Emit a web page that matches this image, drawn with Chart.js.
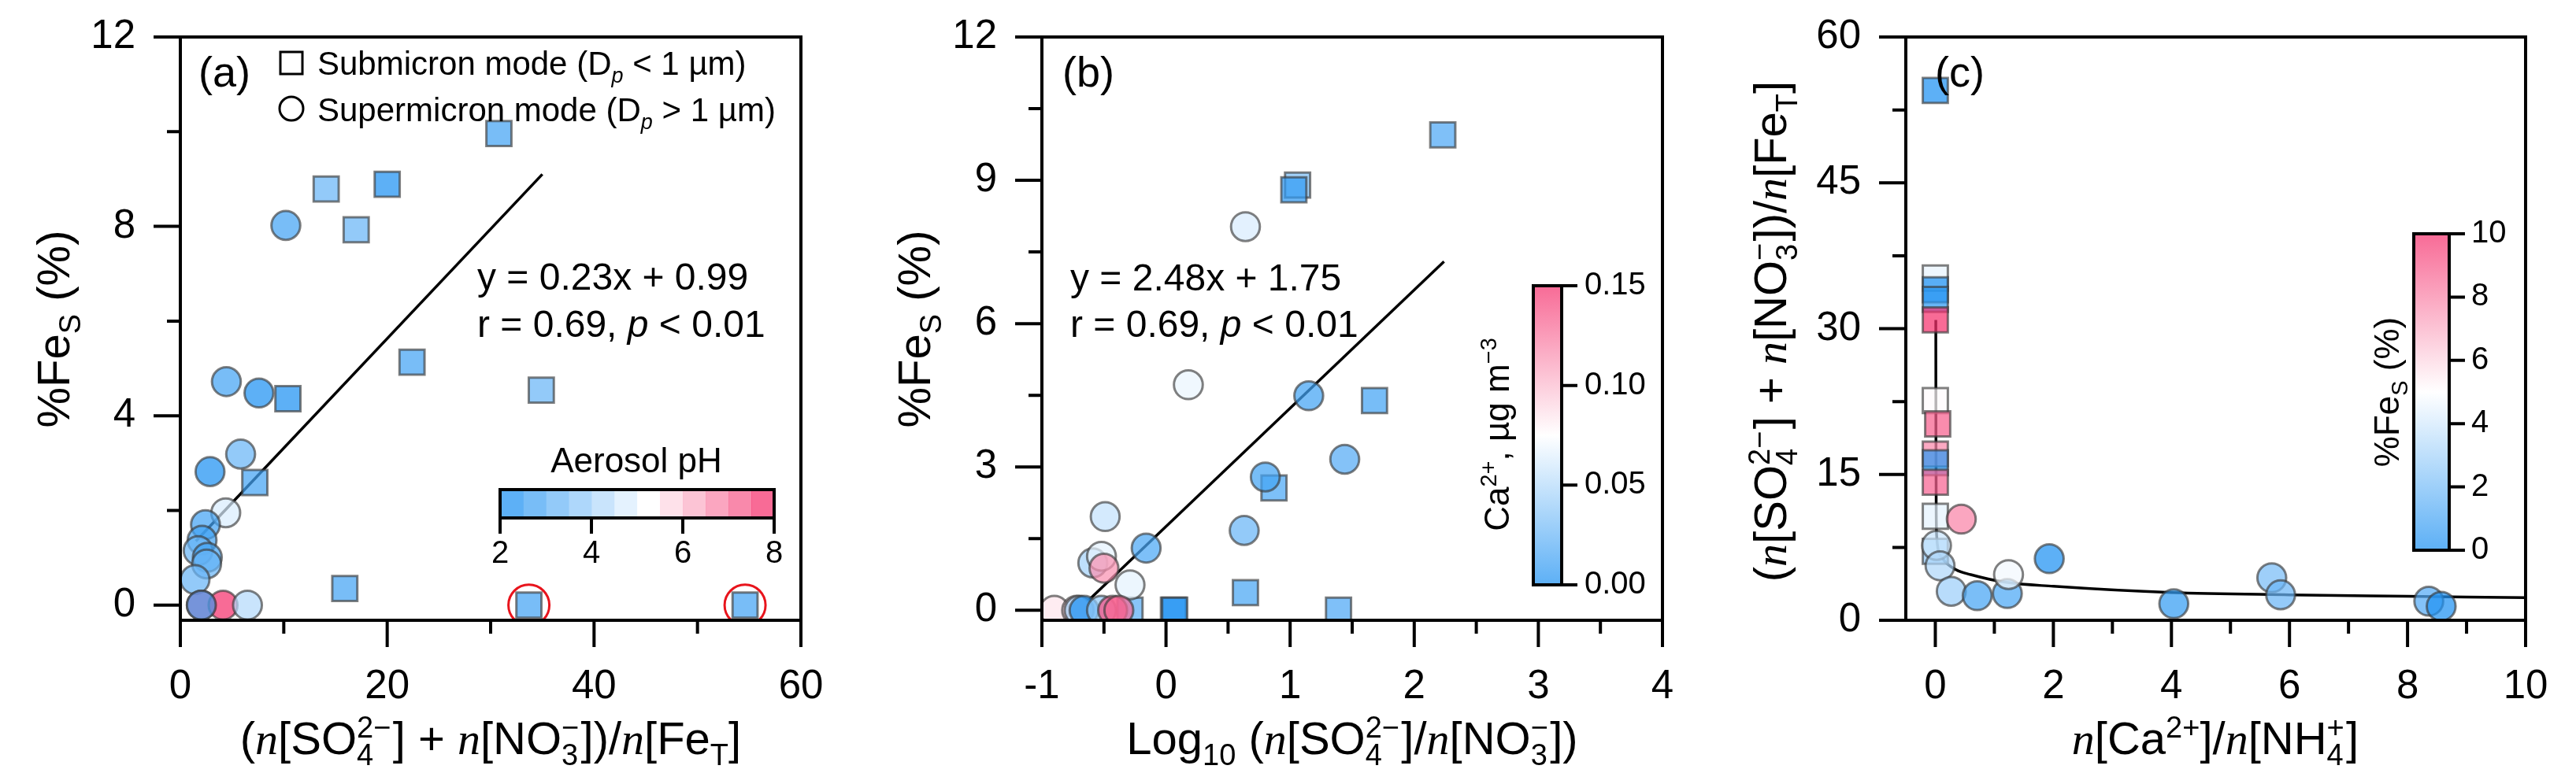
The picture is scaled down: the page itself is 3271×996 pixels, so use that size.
<!DOCTYPE html>
<html>
<head>
<meta charset="utf-8">
<title>%FeS scatter panels</title>
<script src="https://cdn.jsdelivr.net/npm/chart.js@4.4.1/dist/chart.umd.min.js"></script>
<style>
html, body { margin: 0; padding: 0; background: #fff; }
#wrap { position: relative; width: 3271px; height: 996px; overflow: hidden; }
#wrap canvas { position: absolute; top: 0; }
</style>
</head>
<body>
<div id="wrap">
  <canvas id="chartA" width="1090" height="996" style="left:0px"></canvas>
  <canvas id="chartB" width="1090" height="996" style="left:1090px"></canvas>
  <canvas id="chartC" width="1091" height="996" style="left:2180px"></canvas>
</div>
<script>
// ---- panel (a): %FeS vs (SO4 + NO3)/FeT, coloured by aerosol pH
const subAx = [30.8, 14.1, 20.0, 17.0, 22.4, 34.9, 10.4, 7.2, 15.9, 33.7, 54.6];
const subAy = [9.96, 8.79, 8.89, 7.93, 5.13, 4.54, 4.36, 2.59, 0.35, 0, 0];
const subApH = [2.8, 3.3, 2.3, 3.4, 2.9, 3.3, 2.4, 2.9, 2.8, 2.7, 2.9];
const supAx = [10.2, 4.45, 7.6, 5.83, 2.87, 4.39, 2.43, 2.1, 1.72, 2.61, 2.54, 1.42, 2.03, 4.13, 2.03, 6.49];
const supAy = [8.02, 4.72, 4.48, 3.19, 2.82, 1.95, 1.70, 1.37, 1.15, 1.01, 0.87, 0.54, 0, 0, 0, 0];
const supApH = [2.9, 2.9, 2.4, 3.0, 2.4, 4.6, 2.6, 2.6, 3.0, 2.5, 3.1, 3.2, 7.6, 7.6, 2.8, 4.3];
const circledAx = [33.7, 54.6];
const circledAy = [0, 0];
const fitAx = [1.5, 35.0];
const fitAy = [1.35, 9.1];
const xTicksA = [0, 20, 40, 60], xMinorA = [10, 30, 50];
const yTicksA = [0, 4, 8, 12], yMinorA = [2, 6, 10];
const pHTicks = [2, 4, 6, 8];

// ---- panel (b): %FeS vs log10(SO4/NO3), coloured by Ca2+
const subBx = [2.23, 1.06, 1.03, 1.68, 0.87, 0.64, 1.39, 0.06, 0.07, -0.29];
const subBy = [9.95, 8.90, 8.80, 4.39, 2.56, 0.37, 0, 0, 0, 0];
const subBca = [0.016, 0.032, 0.006, 0.012, 0.015, 0.014, 0.016, 0.0, 0.004, 0.02];
const supBx = [0.64, 0.18, 1.15, 1.44, 0.80, 0.63, -0.16, -0.49, -0.59, -0.52, -0.50, -0.29, -0.90, -0.72, -0.70, -0.66, -0.52, -0.43, -0.38];
const supBy = [8.03, 4.72, 4.49, 3.16, 2.79, 1.67, 1.30, 1.96, 0.99, 1.13, 0.88, 0.53, 0, 0, 0, 0, 0, 0, 0];
const supBca = [0.062, 0.068, 0.012, 0.018, 0.012, 0.025, 0.015, 0.055, 0.045, 0.066, 0.115, 0.066, 0.085, 0.09, 0.045, 0.0, 0.04, 0.14, 0.13];
const fitBx = [-0.62, 2.24];
const fitBy = [0.22, 7.30];
const xTicksB = [-1, 0, 1, 2, 3, 4], xMinorB = [-0.5, 0.5, 1.5, 2.5, 3.5];
const yTicksB = [0, 3, 6, 9, 12], yMinorB = [1.5, 4.5, 7.5, 10.5];
const caTicks = ['0.00', '0.05', '0.10', '0.15'];

// ---- panel (c): (SO4 + NO3)/FeT vs Ca2+/NH4+, coloured by %FeS
const subCx = [0, 0, 0, 0, 0, 0, 0.04, 0, 0, 0, 0, 0];
const subCy = [54.5, 35.2, 34.0, 33.0, 30.9, 22.6, 20.2, 17.1, 16.2, 14.2, 10.7, 7.1];
const subCfe = [0.0, 4.5, 0.0, 0.3, 10.0, 5.1, 8.9, 7.9, 0.35, 8.8, 4.4, 2.6];
const supCx = [0.44, 0.02, 0.08, 0.27, 0.71, 1.22, 1.24, 1.93, 4.04, 5.70, 5.85, 8.36, 8.57];
const supCy = [10.4, 7.7, 5.6, 2.98, 2.53, 2.75, 4.7, 6.33, 1.70, 4.37, 2.62, 1.96, 1.44];
const supCfe = [8.0, 3.8, 3.2, 2.8, 0.9, 1.0, 4.7, 0.0, 0.5, 2.0, 1.7, 1.2, 0.0];
const fitCx = [0.008, 0.010, 0.015, 0.025, 0.044, 0.13, 0.35, 0.6, 1.2, 2.0, 4.0, 6.0, 8.0, 10.0];
const fitCy = [30.9, 20.0, 11.0, 8.5, 7.4, 6.3, 5.2, 4.7, 3.9, 3.5, 2.85, 2.62, 2.47, 2.32];
const xTicksC = [0, 2, 4, 6, 8, 10], xMinorC = [1, 3, 5, 7, 9];
const yTicksC = [0, 15, 30, 45, 60], yMinorC = [7.5, 22.5, 37.5, 52.5];
const feTicks = [0, 2, 4, 6, 8, 10];

// ---- colours
const LO = [30, 145, 242], MID = [255, 255, 255], HI = [245, 50, 110];
const ALPHA = 0.72;
const EDGE = 'rgba(60,60,60,0.65)';
const SANS = '"Liberation Sans", Arial, sans-serif';
const SERIF = '"Liberation Serif", "Times New Roman", serif';
const TICK_SIZE = 51;

function mix(c1, c2, t) { return c1.map((v, i) => Math.round(v + (c2[i] - v) * t)); }
function ramp(t) {
    t = Math.max(0, Math.min(1, t));
    return t < 0.5 ? mix(LO, MID, t * 2) : mix(MID, HI, (t - 0.5) * 2);
}
function css(c, a) { return 'rgba(' + c[0] + ',' + c[1] + ',' + c[2] + ',' + (a === undefined ? ALPHA : a) + ')'; }
function pHCell(i) { return i <= 6 ? mix(LO, MID, i / 6) : mix(MID, HI, (i - 6) / 5); }
function pHColor(v) { return css(pHCell(Math.max(0, Math.min(11, Math.floor((v - 2) / 0.5))))); }
function caColor(v) { return css(ramp(v / 0.15)); }
function feColor(v) { return css(ramp(v / 10)); }

function pts(xs, ys) { return xs.map((x, i) => ({ x: x, y: ys[i] })); }

// ---- rich text (sub/superscripts, italics) drawn on the canvas
function fontFor(kind, size) {
    const small = Math.round(size * 0.65);
    if (kind === 'i') return 'italic ' + size + 'px ' + SERIF;
    if (kind === 'ip') return 'italic ' + size + 'px ' + SANS;
    if (kind === 'subi') return 'italic ' + small + 'px ' + SANS;
    if (kind === 'sub' || kind === 'sup' || kind === 'ss') return small + 'px ' + SANS;
    return size + 'px ' + SANS;
}
function segWidth(ctx, s, size) {
    ctx.font = fontFor(s[1], size);
    if (s[1] === 'ss') {
        const parts = s[0].split('|');
        return Math.max(ctx.measureText(parts[0]).width, ctx.measureText(parts[1]).width) + size * 0.04;
    }
    return ctx.measureText(s[0]).width;
}
function drawRich(ctx, segs, x, y, size, align, rot) {
    ctx.save();
    ctx.translate(x, y);
    if (rot) ctx.rotate(rot);
    const w = segs.reduce((t, s) => t + segWidth(ctx, s, size), 0);
    let cx = align === 'center' ? -w / 2 : 0;
    ctx.fillStyle = '#000';
    ctx.textAlign = 'left';
    ctx.textBaseline = 'alphabetic';
    segs.forEach(s => {
        ctx.font = fontFor(s[1], size);
        if (s[1] === 'ss') {
            const parts = s[0].split('|');
            ctx.fillText(parts[0], cx, size * 0.24);
            ctx.fillText(parts[1], cx, -size * 0.36);
        } else if (s[1] === 'sub' || s[1] === 'subi') {
            ctx.fillText(s[0], cx, size * 0.24);
        } else if (s[1] === 'sup') {
            ctx.fillText(s[0], cx, -size * 0.36);
        } else {
            ctx.fillText(s[0], cx, 0);
        }
        cx += segWidth(ctx, s, size);
    });
    ctx.restore();
}
function plainText(ctx, text, x, y, size, align, base) {
    ctx.save();
    ctx.font = size + 'px ' + SANS;
    ctx.fillStyle = '#000';
    ctx.textAlign = align;
    ctx.textBaseline = base;
    ctx.fillText(text, x, y);
    ctx.restore();
}

const titleFeS = [['%Fe', ''], ['S', 'sub'], [' (%)', '']];
const titleRatio = [['(', ''], ['n', 'i'], ['[SO', ''], ['4|2\u2212', 'ss'], ['] + ', ''], ['n', 'i'], ['[NO', ''],
    ['3|\u2212', 'ss'], ['])/', ''], ['n', 'i'], ['[Fe', ''], ['T', 'sub'], [']', '']];
const titleLog = [['Log', ''], ['10', 'sub'], [' (', ''], ['n', 'i'], ['[SO', ''], ['4|2\u2212', 'ss'], [']/', ''],
    ['n', 'i'], ['[NO', ''], ['3|\u2212', 'ss'], ['])', '']];
const titleCaNH4 = [['n', 'i'], ['[Ca', ''], ['2+', 'sup'], [']/', ''], ['n', 'i'], ['[NH', ''], ['4|+', 'ss'], [']', '']];

// ---- frame, major/minor ticks, x tick labels and panel decorations
function makeFrame(cfg) {
    return {
        id: 'frame' + cfg.name,
        afterDatasetsDraw(chart) {
            const ctx = chart.ctx, a = chart.chartArea;
            const xs = chart.scales.x, ys = chart.scales.y;
            ctx.save();
            ctx.strokeStyle = '#000';
            ctx.lineWidth = 4;
            ctx.strokeRect(a.left, a.top, a.right - a.left, a.bottom - a.top);
            ctx.beginPath();
            const xt = (vals, len) => vals.forEach(v => {
                const px = xs.getPixelForValue(v);
                ctx.moveTo(px, a.bottom); ctx.lineTo(px, a.bottom + len);
            });
            const yt = (vals, len) => vals.forEach(v => {
                const py = ys.getPixelForValue(v);
                ctx.moveTo(a.left, py); ctx.lineTo(a.left - len, py);
            });
            xt(cfg.xMajor, 34); xt(cfg.xMinor, 17);
            yt(cfg.yMajor, 34); yt(cfg.yMinor, 17);
            ctx.stroke();
            ctx.restore();
            cfg.xMajor.forEach(v => plainText(ctx, String(v), xs.getPixelForValue(v), a.bottom + 99, TICK_SIZE, 'center', 'alphabetic'));
            cfg.extra(chart);
        }
    };
}

function drawA(chart) {
    const ctx = chart.ctx;
    drawRich(ctx, [['(a)', '']], 252, 110, 54, 'left');
    // legend
    ctx.save();
    ctx.strokeStyle = '#000'; ctx.lineWidth = 3;
    ctx.strokeRect(356, 66, 28, 28);
    ctx.beginPath(); ctx.arc(370, 138, 15, 0, Math.PI * 2); ctx.stroke();
    ctx.restore();
    drawRich(ctx, [['Submicron mode (D', ''], ['p', 'subi'], [' < 1 \u00b5m)', '']], 403, 95, 42, 'left');
    drawRich(ctx, [['Supermicron mode (D', ''], ['p', 'subi'], [' > 1 \u00b5m)', '']], 403, 154, 42, 'left');
    // regression text
    drawRich(ctx, [['y = 0.23x + 0.99', '']], 606, 368, 48, 'left');
    drawRich(ctx, [['r = 0.69, ', ''], ['p', 'ip'], [' < 0.01', '']], 606, 428, 48, 'left');
    // pH colour bar (12 steps)
    const L = 635, R = 983, T = 622, B = 658;
    const cw = (R - L) / 12;
    for (let i = 0; i < 12; i++) {
        ctx.fillStyle = css(pHCell(i));
        ctx.fillRect(L + i * cw, T, cw + 0.5, B - T);
    }
    ctx.save();
    ctx.strokeStyle = '#000'; ctx.lineWidth = 4;
    ctx.strokeRect(L, T, R - L, B - T);
    ctx.beginPath();
    pHTicks.forEach(v => {
        const px = L + (v - 2) / 6 * (R - L);
        ctx.moveTo(px, B); ctx.lineTo(px, B + 20);
        plainText(ctx, String(v), px, 715, 40, 'center', 'alphabetic');
    });
    ctx.stroke();
    ctx.restore();
    plainText(ctx, 'Aerosol pH', 808, 600, 44, 'center', 'alphabetic');
    // axis titles
    drawRich(ctx, titleFeS, 88, 418, 58, 'center', -Math.PI / 2);
    drawRich(ctx, titleRatio, 623, 958, 58, 'center');
}

function drawB(chart) {
    const ctx = chart.ctx;
    drawRich(ctx, [['(b)', '']], 259, 110, 54, 'left');
    drawRich(ctx, [['y = 2.48x + 1.75', '']], 269, 369, 48, 'left');
    drawRich(ctx, [['r = 0.69, ', ''], ['p', 'ip'], [' < 0.01', '']], 269, 428, 48, 'left');
    // Ca2+ colour bar
    const L = 857, R = 893, T = 363, B = 743;
    const g = ctx.createLinearGradient(0, B, 0, T);
    g.addColorStop(0, css(LO)); g.addColorStop(0.5, css(MID)); g.addColorStop(1, css(HI));
    ctx.fillStyle = g;
    ctx.fillRect(L, T, R - L, B - T);
    ctx.save();
    ctx.strokeStyle = '#000'; ctx.lineWidth = 4;
    ctx.strokeRect(L, T, R - L, B - T);
    ctx.beginPath();
    caTicks.forEach(t => {
        const py = B - parseFloat(t) / 0.15 * (B - T);
        ctx.moveTo(R, py); ctx.lineTo(R + 20, py);
        plainText(ctx, t, R + 29, py, 40, 'left', 'middle');
    });
    ctx.stroke();
    ctx.restore();
    drawRich(ctx, [['Ca', ''], ['2+', 'sup'], [', \u00b5g m', ''], ['\u22123', 'sup']], 826, 552, 44, 'center', -Math.PI / 2);
    drawRich(ctx, titleFeS, 91, 418, 58, 'center', -Math.PI / 2);
    drawRich(ctx, titleLog, 627, 958, 58, 'center');
}

function drawC(chart) {
    const ctx = chart.ctx;
    drawRich(ctx, [['(c)', '']], 277, 110, 54, 'left');
    // %FeS colour bar
    const L = 885, R = 930, T = 297, B = 699;
    const g = ctx.createLinearGradient(0, B, 0, T);
    g.addColorStop(0, css(LO)); g.addColorStop(0.5, css(MID)); g.addColorStop(1, css(HI));
    ctx.fillStyle = g;
    ctx.fillRect(L, T, R - L, B - T);
    ctx.save();
    ctx.strokeStyle = '#000'; ctx.lineWidth = 4;
    ctx.strokeRect(L, T, R - L, B - T);
    ctx.beginPath();
    feTicks.forEach(v => {
        const py = B - v / 10 * (B - T);
        ctx.moveTo(R, py); ctx.lineTo(R + 20, py);
        plainText(ctx, String(v), R + 28, py, 40, 'left', 'middle');
    });
    ctx.stroke();
    ctx.restore();
    drawRich(ctx, titleFeS, 866, 498, 44, 'center', -Math.PI / 2);
    drawRich(ctx, titleRatio, 88, 421, 58, 'center', -Math.PI / 2);
    drawRich(ctx, titleCaNH4, 633, 958, 58, 'center');
}

// ---- chart builder
function axes(xr, yr, xt, yt, plotLeft) {
    const tickFont = { family: SANS, size: TICK_SIZE };
    return {
        x: {
            type: 'linear', min: xr[0], max: xr[1],
            grid: { display: false, drawTicks: false }, border: { display: false },
            afterBuildTicks: s => { s.ticks = xt.map(v => ({ value: v })); },
            afterFit: s => { s.height = 208; s.paddingLeft = 0; s.paddingRight = 0; },
            ticks: { display: false }
        },
        y: {
            type: 'linear', min: yr[0], max: yr[1],
            grid: { display: false, drawTicks: false }, border: { display: false },
            afterBuildTicks: s => { s.ticks = yt.map(v => ({ value: v })); },
            // keep the plot area exactly where the layout padding puts it
            afterFit: s => { s.width = plotLeft; s.paddingTop = 0; s.paddingBottom = 0; },
            ticks: { autoSkip: false, padding: 57, color: '#000', font: tickFont, callback: v => String(v) }
        }
    };
}

function scatterSet(data, colors, style, radius) {
    return {
        data: data, order: style === 'circle' ? 1 : 2,
        pointStyle: style, pointRadius: radius, pointHoverRadius: radius,
        pointBackgroundColor: colors, pointBorderColor: EDGE, pointBorderWidth: 3,
        showLine: false
    };
}
function lineSet(data, smooth) {
    return {
        data: data, order: 5, showLine: true, pointRadius: 0, borderColor: '#000', borderWidth: 3.5,
        fill: false, cubicInterpolationMode: smooth ? 'monotone' : 'default', tension: 0
    };
}

function build(id, cfg) {
    const canvas = document.getElementById(id);
    return new Chart(canvas, {
        type: 'scatter',
        data: { datasets: cfg.datasets },
        options: {
            responsive: false, animation: false, devicePixelRatio: 1, events: [],
            layout: { padding: { left: 0, top: 47, right: canvas.width - cfg.plotRight, bottom: 0 } },
            scales: axes(cfg.xr, cfg.yr, cfg.xMajor, cfg.yMajor, cfg.plotLeft),
            plugins: { legend: { display: false }, tooltip: { enabled: false } }
        },
        plugins: [makeFrame(cfg)]
    });
}

build('chartA', {
    name: 'A', plotLeft: 229, plotRight: 1017, xr: [0, 60], yr: [-0.32, 12],
    xMajor: xTicksA, xMinor: xMinorA, yMajor: yTicksA, yMinor: yMinorA, extra: drawA,
    datasets: [
        { data: pts(circledAx, circledAy), order: 0, pointStyle: 'circle', pointRadius: 26, pointHoverRadius: 26,
          pointBackgroundColor: 'rgba(0,0,0,0)', pointBorderColor: '#e8141c', pointBorderWidth: 3, showLine: false },
        scatterSet(pts(supAx, supAy), supApH.map(pHColor), 'circle', 18.3),
        scatterSet(pts(subAx, subAy), subApH.map(pHColor), 'rect', 22.5),
        lineSet(pts(fitAx, fitAy), false)
    ]
});

build('chartB', {
    name: 'B', plotLeft: 233, plotRight: 1021, xr: [-1, 4], yr: [-0.21, 12],
    xMajor: xTicksB, xMinor: xMinorB, yMajor: yTicksB, yMinor: yMinorB, extra: drawB,
    datasets: [
        scatterSet(pts(supBx, supBy), supBca.map(caColor), 'circle', 18.3),
        scatterSet(pts(subBx, subBy), subBca.map(caColor), 'rect', 22.5),
        lineSet(pts(fitBx, fitBy), false)
    ]
});

build('chartC', {
    name: 'C', plotLeft: 240, plotRight: 1027, xr: [-0.5, 10], yr: [0, 60],
    xMajor: xTicksC, xMinor: xMinorC, yMajor: yTicksC, yMinor: yMinorC, extra: drawC,
    datasets: [
        scatterSet(pts(supCx, supCy), supCfe.map(feColor), 'circle', 18.3),
        scatterSet(pts(subCx, subCy), subCfe.map(feColor), 'rect', 22.5),
        lineSet(pts(fitCx, fitCy), true)
    ]
});
</script>
</body>
</html>
